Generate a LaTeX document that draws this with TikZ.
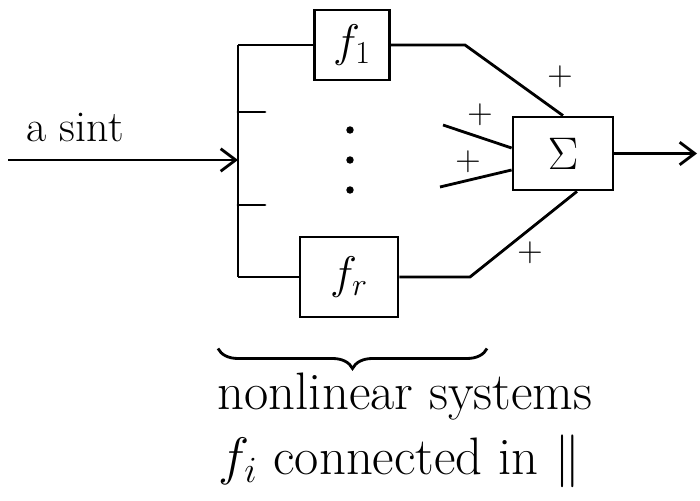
\RequirePackage{fix-cm}
\documentclass[tikz,border=0pt]{standalone}
\usepackage{tkz-euclide}
\usetikzlibrary{arrows,arrows.meta,calc,decorations.pathreplacing}
\tikzset{
  sysbox/.style={draw,line width=1.6pt,inner sep=0pt,font=\fontsize{26}{30}\selectfont},
  plussign/.style={font=\fontsize{20}{22}\selectfont},
  note/.style={inner sep=0pt,anchor=base,font=\fontsize{30}{36}\selectfont},
  inlabel/.style={font=\fontsize{25}{30}\selectfont},
  sigarrow/.style={-{Straight Barb[length=3mm,width=4.5mm]}}
}

\begin{document}
\begin{tikzpicture}[line width=1.6pt]
\useasboundingbox (0,0) rectangle (14,10.02);
\tkzSetUpLine[line width=1.6pt,color=black]
\tkzSetUpPoint[fill=black]

\tkzDefPoints{0.16/6.82/In,4.76/6.82/J,4.76/9.12/Bt,4.76/4.48/Bb}
\tkzDefPoints{4.76/7.78/S1,5.30/7.78/T1,4.76/5.92/S2,5.30/5.92/T2}
\tkzDefPoints{9.30/9.12/K1,9.40/4.48/Kr,8.86/7.52/M1,8.80/6.28/M2,13.94/6.95/Out}
\tkzDefPoints{7/7.42/D1,7/6.82/D2,7/6.22/D3}
\tkzDefPoints{4.36/3.05/Bl,9.74/3.05/Br}

\node[sysbox,minimum width=1.5cm,minimum height=1.4cm] (f1) at (7.04,9.12) {$f_1$};
\node[sysbox,minimum width=1.96cm,minimum height=1.6cm] (fr) at (6.98,4.48) {$f_r$};
\node[sysbox,minimum width=2cm,minimum height=1.46cm] (sum) at (11.26,6.95) {$\Sigma$};

\draw[sigarrow] (In) -- (J);
\draw (Bt) -- (Bb);
\tkzDrawSegments(S1,T1 S2,T2)
\draw (Bt) -- (f1.west);
\draw (Bb) -- (fr.west);
\draw (f1.east) -- (K1) -- (sum.north);
\draw (fr.east) -- (Kr) -- ([xshift=0.28cm]sum.south);
\draw (M1) -- ([yshift=0.11cm]sum.west);
\draw (M2) -- ([yshift=-0.33cm]sum.west);
\draw[sigarrow] (sum.east) -- (Out);
\tkzDrawPoints[size=2.5](D1,D2,D3)

\node[plussign] (p1) at (11.2,8.48) {$+$};
\node[plussign] (p2) at (9.6,7.72) {$+$};
\node[plussign] (p3) at (9.36,6.78) {$+$};
\node[plussign] (p4) at (10.6,4.96) {$+$};

\node[inlabel] (lbl) at (1.5,7.46) {a sint};

\draw[decorate,decoration={brace,mirror,amplitude=0.4cm}] (Bl) -- (Br);
\node[note] (n1) at (8.1,1.82) {nonlinear systems};
\node[note] (n2) at (8.0,0.52) {$f_i$ connected in $\parallel$};

\end{tikzpicture}
\end{document}
